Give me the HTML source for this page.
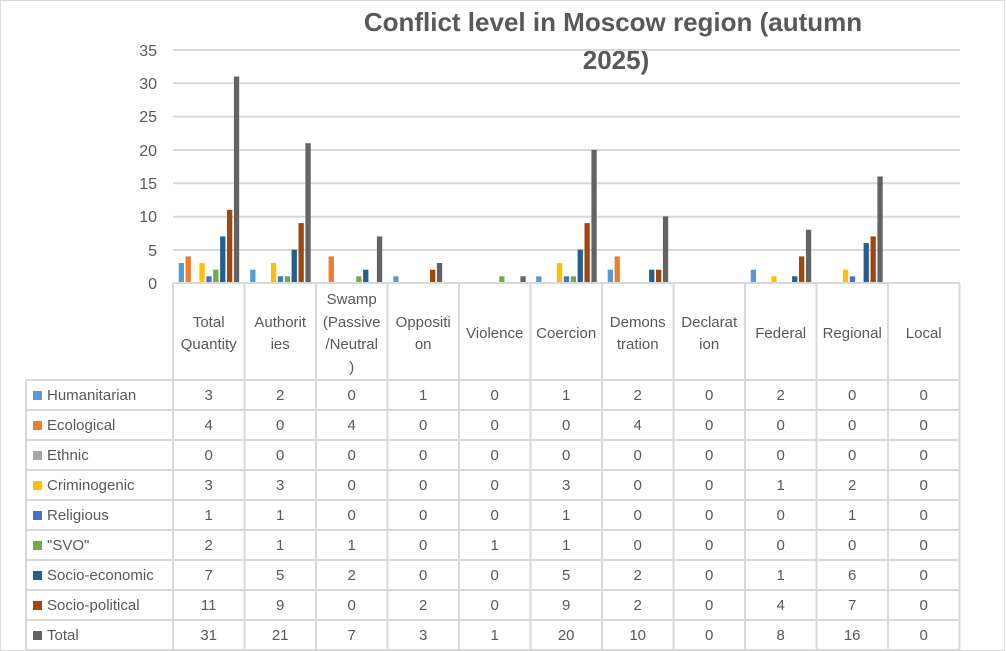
<!DOCTYPE html>
<html><head><meta charset="utf-8"><style>
html,body{margin:0;padding:0;background:#fff}
svg{display:block;font-family:"Liberation Sans",sans-serif}
</style></head><body>
<svg width="1006" height="651" viewBox="0 0 1006 651">
<rect x="0.5" y="0.5" width="1004" height="650" fill="#fff" stroke="#d9d9d9"/>
<g font-size="26" font-weight="bold" fill="#595959" text-anchor="middle">
<text x="613" y="31">Conflict level in Moscow region (autumn</text>
<text x="616" y="69">2025)</text>
</g>
<g stroke="#d9d9d9" stroke-width="2">
<line x1="173" y1="50" x2="960" y2="50"/><line x1="173" y1="83.3" x2="960" y2="83.3"/>
<line x1="173" y1="116.6" x2="960" y2="116.6"/><line x1="173" y1="150" x2="960" y2="150"/>
<line x1="173" y1="183.3" x2="960" y2="183.3"/><line x1="173" y1="216.7" x2="960" y2="216.7"/>
<line x1="173" y1="250" x2="960" y2="250"/>
</g>
<g font-size="16" fill="#595959" text-anchor="end">
<text x="157" y="56">35</text><text x="157" y="89">30</text><text x="157" y="122">25</text>
<text x="157" y="156">20</text><text x="157" y="189">15</text><text x="157" y="222">10</text>
<text x="157" y="256">5</text><text x="157" y="289">0</text>
</g>
<g>
<!-- c0 -->
<rect x="178.7" y="263.0" width="5.3" height="20.0" fill="#5B9BD5"/>
<rect x="185.6" y="256.4" width="5.3" height="26.6" fill="#ED7D31"/>
<rect x="199.4" y="263.0" width="5.3" height="20.0" fill="#FFC000"/>
<rect x="206.3" y="276.3" width="5.3" height="6.7" fill="#4472C4"/>
<rect x="213.2" y="269.7" width="5.3" height="13.3" fill="#70AD47"/>
<rect x="220.1" y="236.4" width="5.3" height="46.6" fill="#255E91"/>
<rect x="227.0" y="209.8" width="5.3" height="73.2" fill="#9E480E"/>
<rect x="233.9" y="76.6" width="5.3" height="206.4" fill="#636363"/>
<!-- c1 -->
<rect x="250.2" y="269.7" width="5.3" height="13.3" fill="#5B9BD5"/>
<rect x="270.9" y="263.0" width="5.3" height="20.0" fill="#FFC000"/>
<rect x="277.8" y="276.3" width="5.3" height="6.7" fill="#4472C4"/>
<rect x="284.7" y="276.3" width="5.3" height="6.7" fill="#70AD47"/>
<rect x="291.6" y="249.7" width="5.3" height="33.3" fill="#255E91"/>
<rect x="298.5" y="223.1" width="5.3" height="59.9" fill="#9E480E"/>
<rect x="305.4" y="143.2" width="5.3" height="139.8" fill="#636363"/>
<!-- c2 -->
<rect x="328.6" y="256.4" width="5.3" height="26.6" fill="#ED7D31"/>
<rect x="356.2" y="276.3" width="5.3" height="6.7" fill="#70AD47"/>
<rect x="363.1" y="269.7" width="5.3" height="13.3" fill="#255E91"/>
<rect x="376.9" y="236.4" width="5.3" height="46.6" fill="#636363"/>
<!-- c3 -->
<rect x="393.2" y="276.3" width="5.3" height="6.7" fill="#5B9BD5"/>
<rect x="430.0" y="269.7" width="5.3" height="13.3" fill="#9E480E"/>
<rect x="436.9" y="263.0" width="5.3" height="20.0" fill="#636363"/>
<!-- c4 -->
<rect x="499.2" y="276.3" width="5.3" height="6.7" fill="#70AD47"/>
<rect x="520.4" y="276.3" width="5.3" height="6.7" fill="#636363"/>
<!-- c5 -->
<rect x="536.2" y="276.3" width="5.3" height="6.7" fill="#5B9BD5"/>
<rect x="556.9" y="263.0" width="5.3" height="20.0" fill="#FFC000"/>
<rect x="563.8" y="276.3" width="5.3" height="6.7" fill="#4472C4"/>
<rect x="570.7" y="276.3" width="5.3" height="6.7" fill="#70AD47"/>
<rect x="577.6" y="249.7" width="5.3" height="33.3" fill="#255E91"/>
<rect x="584.5" y="223.1" width="5.3" height="59.9" fill="#9E480E"/>
<rect x="591.4" y="149.9" width="5.3" height="133.1" fill="#636363"/>
<!-- c6 -->
<rect x="607.7" y="269.7" width="5.3" height="13.3" fill="#5B9BD5"/>
<rect x="614.6" y="256.4" width="5.3" height="26.6" fill="#ED7D31"/>
<rect x="649.1" y="269.7" width="5.3" height="13.3" fill="#255E91"/>
<rect x="656.0" y="269.7" width="5.3" height="13.3" fill="#9E480E"/>
<rect x="662.9" y="216.4" width="5.3" height="66.6" fill="#636363"/>
<!-- c8 -->
<rect x="750.7" y="269.7" width="5.3" height="13.3" fill="#5B9BD5"/>
<rect x="771.4" y="276.3" width="5.3" height="6.7" fill="#FFC000"/>
<rect x="792.1" y="276.3" width="5.3" height="6.7" fill="#255E91"/>
<rect x="799.0" y="256.4" width="5.3" height="26.6" fill="#9E480E"/>
<rect x="805.9" y="229.7" width="5.3" height="53.3" fill="#636363"/>
<!-- c9 -->
<rect x="842.9" y="269.7" width="5.3" height="13.3" fill="#FFC000"/>
<rect x="849.8" y="276.3" width="5.3" height="6.7" fill="#4472C4"/>
<rect x="863.6" y="243.1" width="5.3" height="39.9" fill="#255E91"/>
<rect x="870.5" y="236.4" width="5.3" height="46.6" fill="#9E480E"/>
<rect x="877.4" y="176.5" width="5.3" height="106.5" fill="#636363"/>
</g>
<g stroke="#d9d9d9" stroke-width="2">
<line x1="173" y1="283" x2="960" y2="283"/>
<line x1="26" y1="380" x2="960" y2="380"/><line x1="26" y1="410" x2="960" y2="410"/>
<line x1="26" y1="440" x2="960" y2="440"/><line x1="26" y1="470" x2="960" y2="470"/>
<line x1="26" y1="500" x2="960" y2="500"/><line x1="26" y1="530" x2="960" y2="530"/>
<line x1="26" y1="560" x2="960" y2="560"/><line x1="26" y1="590" x2="960" y2="590"/>
<line x1="26" y1="620" x2="960" y2="620"/><line x1="26" y1="650" x2="960" y2="650"/>
<line x1="26" y1="380" x2="26" y2="651"/>
<line x1="173" y1="283" x2="173" y2="651"/><line x1="244.5" y1="283" x2="244.5" y2="651"/>
<line x1="316" y1="283" x2="316" y2="651"/><line x1="387.5" y1="283" x2="387.5" y2="651"/>
<line x1="459" y1="283" x2="459" y2="651"/><line x1="530.5" y1="283" x2="530.5" y2="651"/>
<line x1="602" y1="283" x2="602" y2="651"/><line x1="673.5" y1="283" x2="673.5" y2="651"/>
<line x1="745" y1="283" x2="745" y2="651"/><line x1="816.5" y1="283" x2="816.5" y2="651"/>
<line x1="888" y1="283" x2="888" y2="651"/><line x1="959.5" y1="283" x2="959.5" y2="651"/>
</g>
<g font-size="15" fill="#595959" text-anchor="middle">
<text x="208.7" y="327">Total</text><text x="208.7" y="349">Quantity</text>
<text x="280.2" y="327">Authorit</text><text x="280.2" y="349">ies</text>
<text x="351.7" y="304">Swamp</text><text x="351.7" y="327">(Passive</text><text x="351.7" y="349">/Neutral</text><text x="351.7" y="372">)</text>
<text x="423.2" y="327">Oppositi</text><text x="423.2" y="349">on</text>
<text x="494.7" y="338">Violence</text>
<text x="566.2" y="338">Coercion</text>
<text x="637.7" y="327">Demons</text><text x="637.7" y="349">tration</text>
<text x="709.2" y="327">Declarat</text><text x="709.2" y="349">ion</text>
<text x="780.7" y="338">Federal</text>
<text x="852.2" y="338">Regional</text>
<text x="923.7" y="338">Local</text>
</g>
<g>
<rect x="33" y="391" width="9" height="9" fill="#5B9BD5"/>
<rect x="33" y="421" width="9" height="9" fill="#ED7D31"/>
<rect x="33" y="451" width="9" height="9" fill="#A5A5A5"/>
<rect x="33" y="481" width="9" height="9" fill="#FFC000"/>
<rect x="33" y="511" width="9" height="9" fill="#4472C4"/>
<rect x="33" y="541" width="9" height="9" fill="#70AD47"/>
<rect x="33" y="571" width="9" height="9" fill="#255E91"/>
<rect x="33" y="601" width="9" height="9" fill="#9E480E"/>
<rect x="33" y="631" width="9" height="9" fill="#636363"/>
</g>
<g font-size="15" fill="#595959">
<text x="47" y="400">Humanitarian</text>
<text x="47" y="430">Ecological</text>
<text x="47" y="460">Ethnic</text>
<text x="47" y="490">Criminogenic</text>
<text x="47" y="520">Religious</text>
<text x="47" y="550">"SVO"</text>
<text x="47" y="580">Socio-economic</text>
<text x="47" y="610">Socio-political</text>
<text x="47" y="640">Total</text>
</g>
<g font-size="15" fill="#595959" text-anchor="middle">
<g transform="translate(0,400)"><text x="208.7">3</text><text x="280.2">2</text><text x="351.7">0</text><text x="423.2">1</text><text x="494.7">0</text><text x="566.2">1</text><text x="637.7">2</text><text x="709.2">0</text><text x="780.7">2</text><text x="852.2">0</text><text x="923.7">0</text></g>
<g transform="translate(0,430)"><text x="208.7">4</text><text x="280.2">0</text><text x="351.7">4</text><text x="423.2">0</text><text x="494.7">0</text><text x="566.2">0</text><text x="637.7">4</text><text x="709.2">0</text><text x="780.7">0</text><text x="852.2">0</text><text x="923.7">0</text></g>
<g transform="translate(0,460)"><text x="208.7">0</text><text x="280.2">0</text><text x="351.7">0</text><text x="423.2">0</text><text x="494.7">0</text><text x="566.2">0</text><text x="637.7">0</text><text x="709.2">0</text><text x="780.7">0</text><text x="852.2">0</text><text x="923.7">0</text></g>
<g transform="translate(0,490)"><text x="208.7">3</text><text x="280.2">3</text><text x="351.7">0</text><text x="423.2">0</text><text x="494.7">0</text><text x="566.2">3</text><text x="637.7">0</text><text x="709.2">0</text><text x="780.7">1</text><text x="852.2">2</text><text x="923.7">0</text></g>
<g transform="translate(0,520)"><text x="208.7">1</text><text x="280.2">1</text><text x="351.7">0</text><text x="423.2">0</text><text x="494.7">0</text><text x="566.2">1</text><text x="637.7">0</text><text x="709.2">0</text><text x="780.7">0</text><text x="852.2">1</text><text x="923.7">0</text></g>
<g transform="translate(0,550)"><text x="208.7">2</text><text x="280.2">1</text><text x="351.7">1</text><text x="423.2">0</text><text x="494.7">1</text><text x="566.2">1</text><text x="637.7">0</text><text x="709.2">0</text><text x="780.7">0</text><text x="852.2">0</text><text x="923.7">0</text></g>
<g transform="translate(0,580)"><text x="208.7">7</text><text x="280.2">5</text><text x="351.7">2</text><text x="423.2">0</text><text x="494.7">0</text><text x="566.2">5</text><text x="637.7">2</text><text x="709.2">0</text><text x="780.7">1</text><text x="852.2">6</text><text x="923.7">0</text></g>
<g transform="translate(0,610)"><text x="208.7">11</text><text x="280.2">9</text><text x="351.7">0</text><text x="423.2">2</text><text x="494.7">0</text><text x="566.2">9</text><text x="637.7">2</text><text x="709.2">0</text><text x="780.7">4</text><text x="852.2">7</text><text x="923.7">0</text></g>
<g transform="translate(0,640)"><text x="208.7">31</text><text x="280.2">21</text><text x="351.7">7</text><text x="423.2">3</text><text x="494.7">1</text><text x="566.2">20</text><text x="637.7">10</text><text x="709.2">0</text><text x="780.7">8</text><text x="852.2">16</text><text x="923.7">0</text></g>
</g>
</svg>
</body></html>
